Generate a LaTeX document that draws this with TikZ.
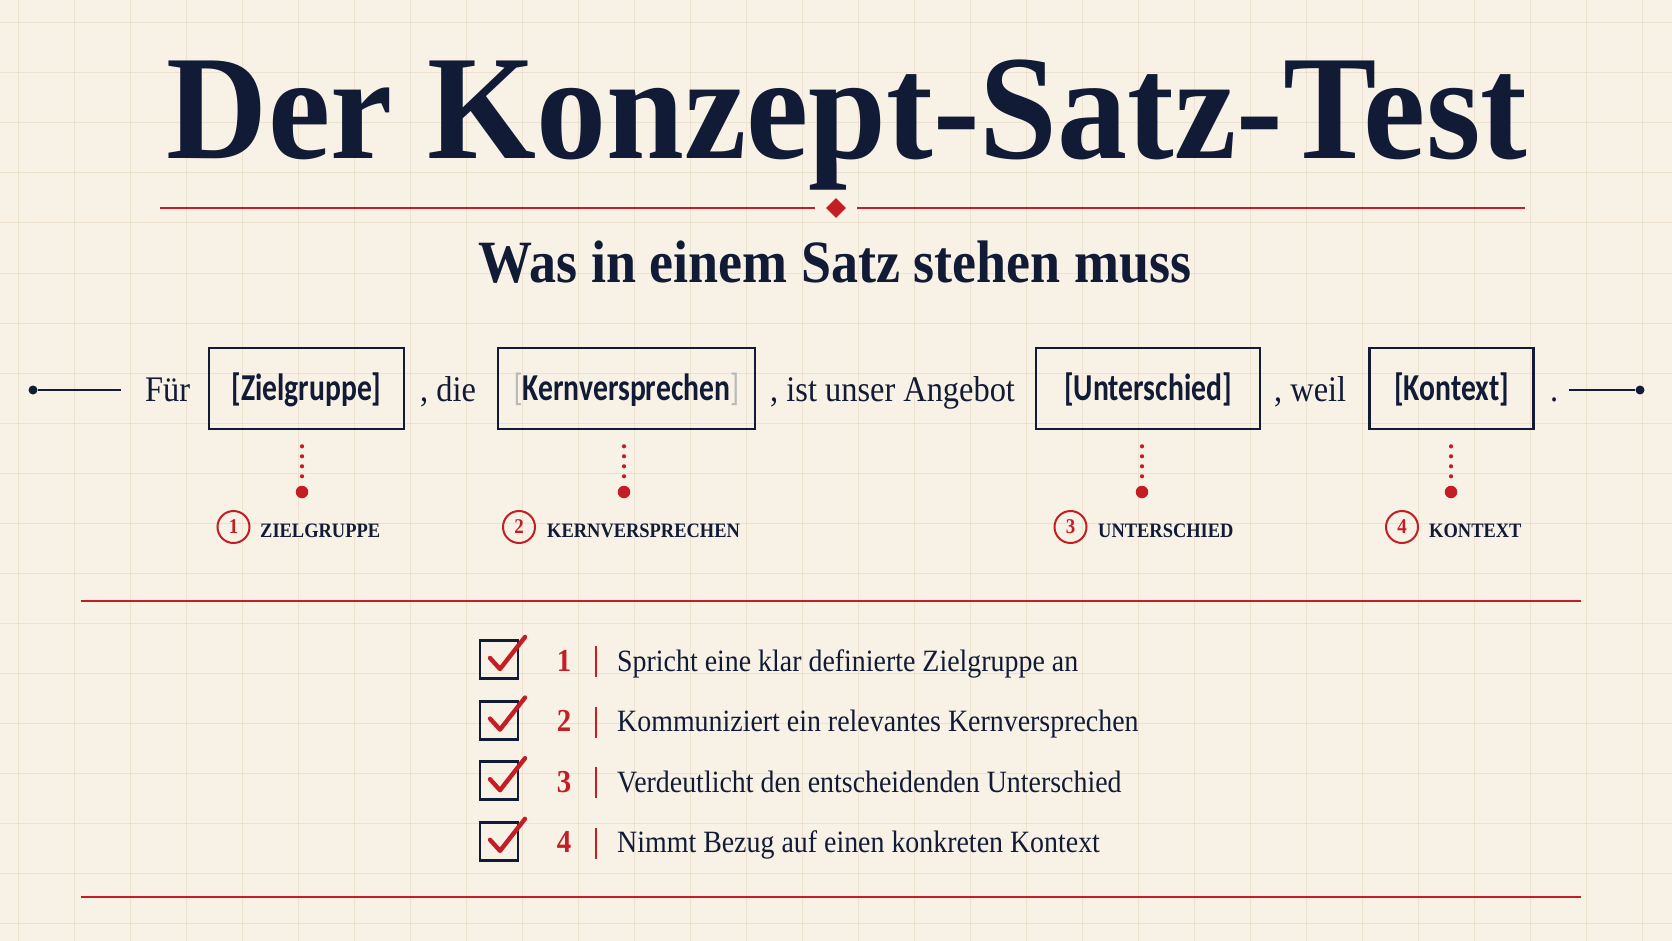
\documentclass[tikz,border=0pt]{standalone}
\usepackage{fontspec}
\setmainfont{Liberation Serif}[FakeStretch=0.9]
\newfontfamily\titlefont{Liberation Serif}[FakeStretch=0.94]
\newfontfamily\boxfont{Carlito}[FakeStretch=0.78]
\definecolor{navy}{HTML}{111B36}
\definecolor{accent}{HTML}{C41E24}
\definecolor{paper}{HTML}{F8F1E5}
\definecolor{gridc}{HTML}{EDE2D0}
\tikzset{
  gridline/.style={draw=gridc, line width=1pt},
  redrule/.style={draw=accent, line width=2.4pt},
  slot/.style={draw=navy, line width=2.6pt, inner sep=0pt, text=navy,
    font=\boxfont\bfseries\fontsize{38}{40}\selectfont, minimum height=81pt,
    text height=30pt, text depth=6pt},
  sent/.style={anchor=base west, inner sep=0pt, text=navy, font=\fontsize{36}{38}\selectfont},
  enddot/.style={circle, fill=navy, minimum size=9pt, inner sep=0pt},
  bigdot/.style={circle, fill=accent, minimum size=12.5pt, inner sep=0pt},
  dotline/.style={draw=accent, line width=4.2pt, line cap=round, dash pattern=on 0pt off 10pt},
  numring/.style={circle, draw=accent, line width=2pt, minimum size=32pt, inner sep=0pt,
    text=accent, font=\bfseries\fontsize{21}{21}\selectfont},
  labtext/.style={anchor=base west, inner sep=0pt, text=navy, font=\bfseries\fontsize{20.5}{22}\selectfont},
  cbox/.style={draw=navy, line width=2.8pt, minimum size=38pt, inner sep=0pt},
  check/.style={draw=accent, line width=4.4pt, line cap=round, line join=round},
  cnum/.style={anchor=base, inner sep=0pt, text=accent, font=\bfseries\fontsize{32}{32}\selectfont},
  ctext/.style={anchor=base west, inner sep=0pt, text=navy, font=\fontsize{31}{33}\selectfont}
}
\begin{document}
\begin{tikzpicture}[x=1pt,y=-1pt]
\fill[paper] (0,0) rectangle (1672,941);
\useasboundingbox (0,0) rectangle (1672,941);
% grid
\foreach \gx in {18,74,...,1672} \draw[gridline] (\gx,0) -- (\gx,941);
\foreach \gy in {23,73,...,941} \draw[gridline] (0,\gy) -- (1672,\gy);

% title
\node[anchor=base, inner sep=0pt, text=navy] (title) at (847,159)
  {\titlefont\bfseries\fontsize{149}{150}\selectfont Der Konzept-Satz-Test};
\node[fill=accent, rotate=45, minimum size=14pt, inner sep=0pt] (dia) at (836,208) {};
\coordinate (tl) at (160,208);
\coordinate (tr) at (1525,208);
\draw[redrule] (tl) -- ([xshift=-21pt]dia.center);
\draw[redrule] ([xshift=21pt]dia.center) -- (tr);

% subtitle
\node[anchor=base, inner sep=0pt, text=navy] (sub) at (835,283)
  {\bfseries\fontsize{60}{62}\selectfont Was in einem Satz stehen muss};

% sentence row
\node[enddot] (ldot) at (33,390) {};
\coordinate (lend) at (121,390);
\draw[navy, line width=2.4pt] (ldot) -- (lend);
\node[sent] (w1) at (145,401) {Für};
\node[slot, minimum width=195pt] (b1) at (306.5,388.5) {[Zielgruppe]};
\node[sent] (w2) at (420,401) {, die};
\node[slot, minimum width=257pt] (b2) at (626.5,388.5)
  {{\mdseries\color{gray!55}[}Kernversprechen{\mdseries\color{gray!55}]}};
\node[sent] (w3) at (770,401) {, ist unser Angebot};
\node[slot, minimum width=224pt] (b3) at (1148,388.5) {[Unterschied]};
\node[sent] (w4) at (1274,401) {, weil};
\node[slot, minimum width=164pt] (b4) at (1451.5,388.5) {[Kontext]};
\node[sent] (w5) at (1550,401) {.};
\coordinate (rstart) at (1569,390);
\node[enddot] (rdot) at (1640,390) {};
\draw[navy, line width=2.4pt] (rstart) -- (rdot);

% markers below boxes
\node[bigdot] (d1) at (302,492) {};
\node[bigdot] (d2) at (624,492) {};
\node[bigdot] (d3) at (1142,492) {};
\node[bigdot] (d4) at (1451,492) {};
\foreach \k in {1,2,3,4}
  \draw[dotline, shorten >=6pt] ([yshift=-16pt]d\k |- b\k.south) -- (d\k.north);

% numbered labels
\node[numring] (n1) at (233.5,527) {1};
\node[labtext] (t1) at (260,537) {ZIELGRUPPE};
\node[numring] (n2) at (519,527) {2};
\node[labtext] (t2) at (547,537) {KERNVERSPRECHEN};
\node[numring] (n3) at (1070.5,527) {3};
\node[labtext] (t3) at (1098,537) {UNTERSCHIED};
\node[numring] (n4) at (1402,527) {4};
\node[labtext] (t4) at (1429,537) {KONTEXT};

% rules around checklist
\coordinate (r1a) at (81,601);
\coordinate (r1b) at (1581,601);
\draw[redrule] (r1a) -- (r1b);
\coordinate (r2a) at (81,897);
\coordinate (r2b) at (1581,897);
\draw[redrule] (r2a) -- (r2b);

% checklist
\foreach \i/\t in {1/Spricht eine klar definierte Zielgruppe an,
                   2/Kommuniziert ein relevantes Kernversprechen,
                   3/Verdeutlicht den entscheidenden Unterschied,
                   4/Nimmt Bezug auf einen konkreten Kontext} {
  \pgfmathsetmacro{\yy}{671+60.6*(\i-1)}
  \node[cbox] (cb\i) at (499,\yy-11.5) {};
  \draw[check] (cb\i.center) ++(-9,-1.5) -- ++(10,11) -- ++(25,-32);
  \node[cnum] (cn\i) at (564,\yy) {\i};
  \draw[accent, line width=2.4pt] (596,\yy-25) -- (596,\yy+6);
  \node[ctext] (ct\i) at (617,\yy) {\t};
}
\end{tikzpicture}
\end{document}
